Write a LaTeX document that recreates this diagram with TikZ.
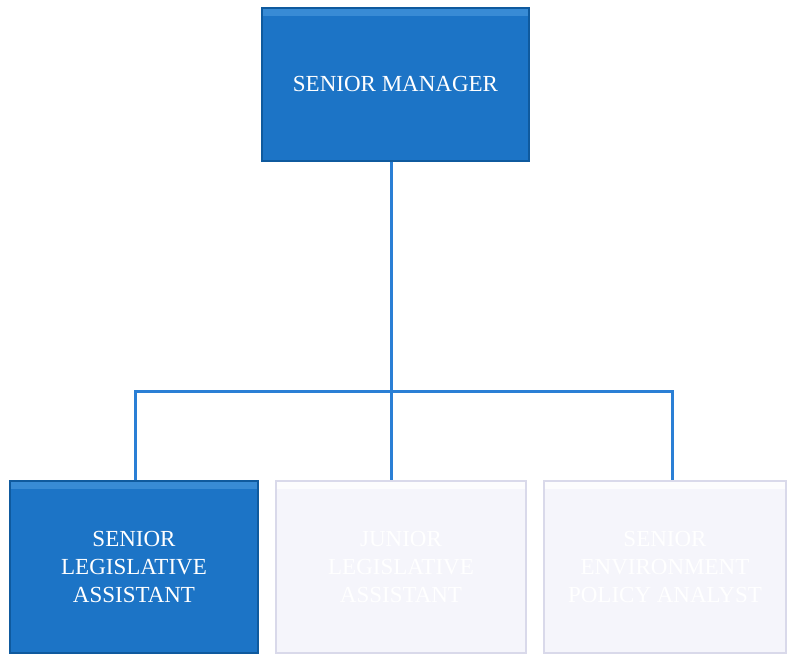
\documentclass[tikz,border=0pt]{standalone}
\usepackage{fontspec}
\setmainfont{Liberation Serif}
\definecolor{boxblue}{HTML}{1C74C6}
\definecolor{boxblueedge}{HTML}{0F5A9E}
\definecolor{boxbluelight}{HTML}{4C9BE0}
\definecolor{linkblue}{HTML}{2A7FD5}
\definecolor{paleface}{HTML}{F5F5FB}
\definecolor{paleedge}{HTML}{D9D9EA}
\begin{document}
\begin{tikzpicture}[x=1pt,y=-1pt,
  bluebox/.style={draw=boxblueedge,line width=1.2pt,fill=boxblue,text=white,
    inner sep=0pt,align=center,font=\fontsize{23}{28}\selectfont},
  palebox/.style={draw=paleedge,line width=1.2pt,fill=paleface,text=white,
    inner sep=0pt,align=center,font=\fontsize{23}{28}\selectfont},
  link/.style={draw=linkblue,line width=3pt}]
\useasboundingbox (0,0) rectangle (788,655);
\node[bluebox,minimum width=267pt,minimum height=153pt] (top) at (395.5,84.5) {SENIOR MANAGER};
\node[bluebox,minimum width=248pt,minimum height=172pt] (left) at (134,567) {SENIOR\\LEGISLATIVE\\ASSISTANT};
\node[palebox,minimum width=250pt,minimum height=172pt] (mid) at (401,567) {JUNIOR\\LEGISLATIVE\\ASSISTANT};
\node[palebox,minimum width=242pt,minimum height=172pt] (right) at (665,567) {SENIOR\\ENVIRONMENT\\POLICY ANALYST};
% bevel highlights
\fill[boxbluelight,opacity=0.6] ([xshift=2pt,yshift=-2pt]top.north west) rectangle ([xshift=-2pt,yshift=-9pt]top.north east);
\fill[boxbluelight,opacity=0.6] ([xshift=2pt,yshift=-2pt]left.north west) rectangle ([xshift=-2pt,yshift=-9pt]left.north east);
\fill[white,opacity=0.7] ([xshift=2pt,yshift=-2pt]mid.north west) rectangle ([xshift=-2pt,yshift=-9pt]mid.north east);
\fill[white,opacity=0.7] ([xshift=2pt,yshift=-2pt]right.north west) rectangle ([xshift=-2pt,yshift=-9pt]right.north east);
\coordinate (jc) at (391,391);
\coordinate (jl) at (135,391);
\coordinate (jr) at (672,391);
\draw[link] (jc |- top.south) -- (jc |- mid.north);
\draw[link] (jl |- left.north) -- (jl) -- (jr) -- (jr |- right.north);
\end{tikzpicture}
\end{document}
